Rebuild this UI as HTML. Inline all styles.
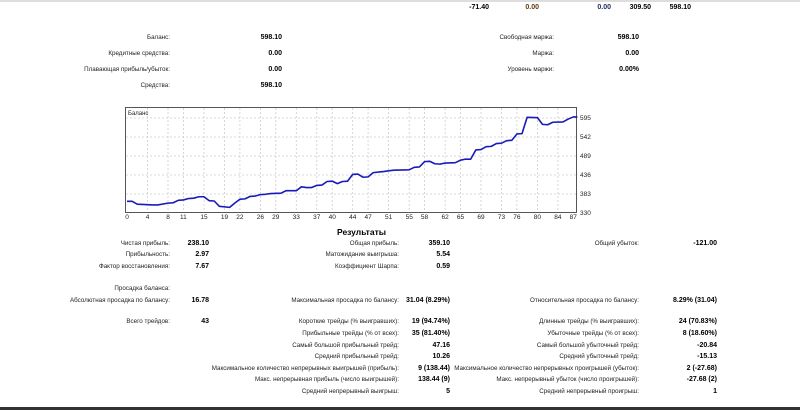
<!DOCTYPE html>
<html><head><meta charset="utf-8"><style>
body{margin:0;width:800px;height:410px;background:#fff;position:relative;overflow:hidden;font-family:"Liberation Sans",sans-serif;font-size:6.25px;color:#222}
.t{position:absolute;white-space:nowrap;line-height:8px;transform:translateX(-100%)}
.b{font-weight:bold;color:#000;font-size:7px}
</style></head><body>
<div style="position:absolute;left:0;top:0;width:800px;height:2px;background:#ddd"></div>
<div style="position:absolute;left:0;top:407px;width:800px;height:3px;background:#333"></div>

<div class="t b" style="left:489px;top:4px">-71.40</div>
<div class="t b" style="left:539px;top:4px;color:#5a3a10">0.00</div>
<div class="t b" style="left:611px;top:4px;color:#1a2a5a">0.00</div>
<div class="t b" style="left:651px;top:4px">309.50</div>
<div class="t b" style="left:691px;top:4px">598.10</div>

<div class="t" style="left:170px;top:34px">Баланс:</div><div class="t b" style="left:282px;top:34px">598.10</div>
<div class="t" style="left:170px;top:50px">Кредитные средства:</div><div class="t b" style="left:282px;top:50px">0.00</div>
<div class="t" style="left:170px;top:66px">Плавающая прибыль/убыток:</div><div class="t b" style="left:282px;top:66px">0.00</div>
<div class="t" style="left:170px;top:82px">Средства:</div><div class="t b" style="left:282px;top:82px">598.10</div>
<div class="t" style="left:554px;top:34px">Свободная маржа:</div><div class="t b" style="left:639px;top:34px">598.10</div>
<div class="t" style="left:554px;top:50px">Маржа:</div><div class="t b" style="left:639px;top:50px">0.00</div>
<div class="t" style="left:554px;top:66px">Уровень маржи:</div><div class="t b" style="left:639px;top:66px">0.00%</div>

<svg style="position:absolute;left:0;top:0" width="800" height="230" font-family="Liberation Sans, sans-serif" font-size="6.5" fill="#222">
<rect x="125.5" y="107.5" width="451" height="105" fill="#fff" stroke="#555"/>
<g stroke="#ccc" stroke-dasharray="2,2" stroke-width="0.8">
<line x1="126" x2="576" y1="118" y2="118"/><line x1="126" x2="576" y1="137" y2="137"/><line x1="126" x2="576" y1="156" y2="156"/><line x1="126" x2="576" y1="175" y2="175"/><line x1="126" x2="576" y1="194" y2="194"/>
<line y1="108" y2="212" x1="147.5" x2="147.5"/><line y1="108" y2="212" x1="168" x2="168"/><line y1="108" y2="212" x1="183.4" x2="183.4"/><line y1="108" y2="212" x1="204" x2="204"/><line y1="108" y2="212" x1="224.5" x2="224.5"/><line y1="108" y2="212" x1="239.9" x2="239.9"/><line y1="108" y2="212" x1="260.4" x2="260.4"/><line y1="108" y2="212" x1="275.8" x2="275.8"/><line y1="108" y2="212" x1="296.3" x2="296.3"/><line y1="108" y2="212" x1="316.8" x2="316.8"/><line y1="108" y2="212" x1="332.2" x2="332.2"/><line y1="108" y2="212" x1="352.7" x2="352.7"/><line y1="108" y2="212" x1="368.1" x2="368.1"/><line y1="108" y2="212" x1="388.6" x2="388.6"/><line y1="108" y2="212" x1="409.2" x2="409.2"/><line y1="108" y2="212" x1="424.5" x2="424.5"/><line y1="108" y2="212" x1="445.1" x2="445.1"/><line y1="108" y2="212" x1="460.5" x2="460.5"/><line y1="108" y2="212" x1="481" x2="481"/><line y1="108" y2="212" x1="501.5" x2="501.5"/><line y1="108" y2="212" x1="516.9" x2="516.9"/><line y1="108" y2="212" x1="537.4" x2="537.4"/><line y1="108" y2="212" x1="557.9" x2="557.9"/>
</g>
<text x="128" y="115" font-size="6">Баланс</text>
<g transform="translate(127,212) scale(5.13,-0.3547) translate(0,-330)">
<polyline fill="none" stroke="#1a1ab8" stroke-width="1.6" vector-effect="non-scaling-stroke" stroke-linejoin="round" points="0,360 1,360 2,352 5,350 6,350 8,355 9,356 10,363 11,364 12,368 13,369 14,373 15,373 16,362 17,361 18,346 20,343 21,355 22,366 23,367 24,374 25,375 26,379 27,380 28,382 30,383 31,390 33,390 34,401 35,399 36,399 37,405 38,406 39,416 40,417 41,410 42,416 43,417 44,436 45,437 46,428 47,429 48,441 50,444 51,446 52,448 55,449 56,456 57,457 58,472 59,473 60,466 61,465 62,468 64,469 65,476 66,479 67,479 68,505 69,506 70,514 71,515 72,523 73,524 74,531 75,532 76,550 77,551 78,597 80,596 81,577 82,576 83,583 85,584 86,592 87,598 87.8,598"/>
</g>
<g>
<text x="580" y="120">595</text><text x="580" y="139">542</text><text x="580" y="158">489</text><text x="580" y="177">436</text><text x="580" y="196">383</text><text x="580" y="215">330</text>
</g>
<g text-anchor="middle">
<text x="127" y="219">0</text><text x="147.5" y="219">4</text><text x="168" y="219">8</text><text x="183.4" y="219">11</text><text x="204" y="219">15</text><text x="224.5" y="219">19</text><text x="239.9" y="219">22</text><text x="260.4" y="219">26</text><text x="275.8" y="219">29</text><text x="296.3" y="219">33</text><text x="316.8" y="219">37</text><text x="332.2" y="219">40</text><text x="352.7" y="219">44</text><text x="368.1" y="219">47</text><text x="388.6" y="219">51</text><text x="409.2" y="219">55</text><text x="424.5" y="219">58</text><text x="445.1" y="219">62</text><text x="460.5" y="219">65</text><text x="481" y="219">69</text><text x="501.5" y="219">73</text><text x="516.9" y="219">76</text><text x="537.4" y="219">80</text><text x="557.9" y="219">84</text><text x="573.3" y="219">87</text>
</g>
</svg>

<div class="t b" style="left:386px;top:227px;font-size:8.5px;line-height:10px">Результаты</div>

<div class="t" style="left:170px;top:240px">Чистая прибыль:</div><div class="t b" style="left:209px;top:240px">238.10</div>
<div class="t" style="left:399px;top:240px">Общая прибыль:</div><div class="t b" style="left:450px;top:240px">359.10</div>
<div class="t" style="left:639px;top:240px">Общий убыток:</div><div class="t b" style="left:717px;top:240px">-121.00</div>

<div class="t" style="left:170px;top:251px">Прибыльность:</div><div class="t b" style="left:209px;top:251px">2.97</div>
<div class="t" style="left:399px;top:251px">Матожидание выигрыша:</div><div class="t b" style="left:450px;top:251px">5.54</div>

<div class="t" style="left:170px;top:263px">Фактор восстановления:</div><div class="t b" style="left:209px;top:263px">7.67</div>
<div class="t" style="left:399px;top:263px">Коэффициент Шарпа:</div><div class="t b" style="left:450px;top:263px">0.59</div>

<div class="t" style="left:170px;top:285px">Просадка баланса:</div>
<div class="t" style="left:170px;top:297px">Абсолютная просадка по балансу:</div><div class="t b" style="left:209px;top:297px">16.78</div>
<div class="t" style="left:399px;top:297px">Максимальная просадка по балансу:</div><div class="t b" style="left:450px;top:297px">31.04 (8.29%)</div>
<div class="t" style="left:639px;top:297px">Относительная просадка по балансу:</div><div class="t b" style="left:717px;top:297px">8.29% (31.04)</div>

<div class="t" style="left:170px;top:318px">Всего трейдов:</div><div class="t b" style="left:209px;top:318px">43</div>
<div class="t" style="left:399px;top:318px">Короткие трейды (% выигравших):</div><div class="t b" style="left:450px;top:318px">19 (94.74%)</div>
<div class="t" style="left:639px;top:318px">Длинные трейды (% выигравших):</div><div class="t b" style="left:717px;top:318px">24 (70.83%)</div>

<div class="t" style="left:399px;top:330px">Прибыльные трейды (% от всех):</div><div class="t b" style="left:450px;top:330px">35 (81.40%)</div>
<div class="t" style="left:639px;top:330px">Убыточные трейды (% от всех):</div><div class="t b" style="left:717px;top:330px">8 (18.60%)</div>

<div class="t" style="left:399px;top:342px">Самый большой прибыльный трейд:</div><div class="t b" style="left:450px;top:342px">47.16</div>
<div class="t" style="left:639px;top:342px">Самый большой убыточный трейд:</div><div class="t b" style="left:717px;top:342px">-20.84</div>

<div class="t" style="left:399px;top:353px">Средний прибыльный трейд:</div><div class="t b" style="left:450px;top:353px">10.26</div>
<div class="t" style="left:639px;top:353px">Средний убыточный трейд:</div><div class="t b" style="left:717px;top:353px">-15.13</div>

<div class="t" style="left:399px;top:365px">Максимальное количество непрерывных выигрышей (прибыль):</div><div class="t b" style="left:450px;top:365px">9 (138.44)</div>
<div class="t" style="left:639px;top:365px">Максимальное количество непрерывных проигрышей (убыток):</div><div class="t b" style="left:717px;top:365px">2 (-27.68)</div>

<div class="t" style="left:399px;top:376px">Макс. непрерывная прибыль (число выигрышей):</div><div class="t b" style="left:450px;top:376px">138.44 (9)</div>
<div class="t" style="left:639px;top:376px">Макс. непрерывный убыток (число проигрышей):</div><div class="t b" style="left:717px;top:376px">-27.68 (2)</div>

<div class="t" style="left:399px;top:388px">Средний непрерывный выигрыш:</div><div class="t b" style="left:450px;top:388px">5</div>
<div class="t" style="left:639px;top:388px">Средний непрерывный проигрыш:</div><div class="t b" style="left:717px;top:388px">1</div>
</body></html>
